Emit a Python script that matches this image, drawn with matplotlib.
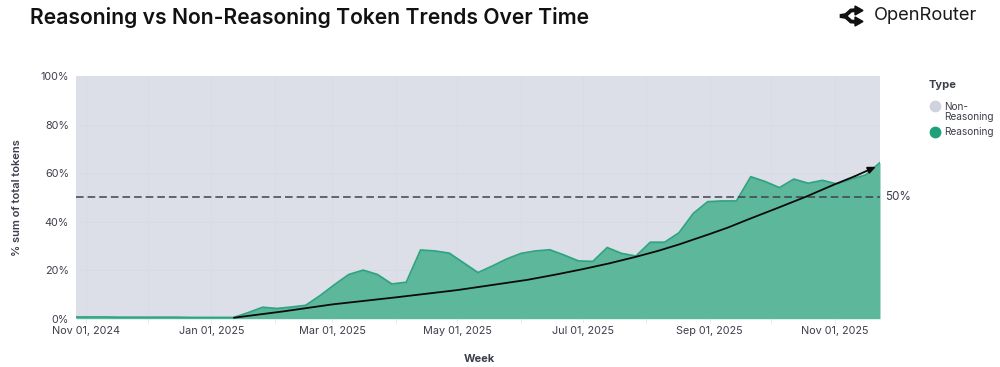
import pandas as pd
import matplotlib.pyplot as plt
import matplotlib.dates as mdates
from matplotlib.lines import Line2D

plt.rcParams["font.family"] = ["Inter", "DejaVu Sans"]

W, H = 1000, 367

# Weekly share of reasoning tokens
weeks = pd.date_range("2024-10-27", periods=57, freq="7D")
reasoning = [
    0.7, 0.7, 0.7, 0.6, 0.6, 0.6, 0.6, 0.6, 0.5, 0.5, 0.5, 0.5,
    2.5, 4.7, 4.2, 4.8, 5.5, 9.5, 14.0, 18.2, 20.0, 18.2, 14.3, 15.0,
    28.3, 27.9, 27.0, 23.0, 19.0, 21.7, 24.6, 26.9, 27.9, 28.4, 26.2, 23.8,
    23.6, 29.3, 26.9, 25.8, 31.5, 31.5, 35.4, 43.4, 48.2, 48.5, 48.5, 58.5,
    56.5, 54.0, 57.5, 55.8, 57.0, 55.5, 57.5, 59.2, 64.3,
]

# Hand-drawn trend arrow
trend_dates = pd.to_datetime([
    "2025-01-12", "2025-02-05", "2025-03-01", "2025-04-01", "2025-05-01", "2025-06-04",
    "2025-06-18", "2025-07-01", "2025-07-14", "2025-07-27", "2025-08-07", "2025-08-17",
    "2025-09-01", "2025-09-10", "2025-09-20", "2025-10-04", "2025-10-18", "2025-11-01",
    "2025-11-11", "2025-11-21",
])
trend_values = [
    0.4, 3.0, 5.9, 8.8, 11.8, 16.0, 18.2, 20.4, 22.8, 25.5, 28.0, 30.6,
    34.9, 37.6, 41.0, 45.6, 50.3, 55.4, 58.8, 62.6,
]

tick_dates = pd.date_range("2024-11-01", "2025-11-01", freq="MS")
labels_every = 2
y_ticks = [0, 20, 40, 60, 80, 100]

GREY = "#DCDFE7"
GREEN_FILL = "#5CB79B"
GREEN_LINE = "#2FA482"
TEXT = "#3C3F4C"
GRID = "#D8DBE3"


def fx(px):
    return px / W


def fy(px):
    return 1 - px / H


fig = plt.figure(figsize=(W / 100, H / 100), dpi=100)
ax = fig.add_axes([fx(76), fy(318.7), fx(880 - 76), (318.7 - 76) / H])

ax.fill_between(weeks, 0, 100, color=GREY, lw=0, zorder=1)
for d in tick_dates:
    ax.axvline(d, color=GRID, lw=0.6, zorder=1.5)
for v in y_ticks[1:-1]:
    ax.axhline(v, color=GRID, lw=0.6, zorder=1.5)
ax.fill_between(weeks, 0, reasoning, color=GREEN_FILL, lw=0, zorder=2)
ax.plot(weeks, reasoning, color=GREEN_LINE, lw=1.3, zorder=3)

ax.set_xlim(weeks[0], weeks[-1])
ax.set_ylim(0, 100)

ax.set_xticks(tick_dates)
ax.set_xticklabels([d.strftime("%b %d, %Y") if i % labels_every == 0 else "" for i, d in enumerate(tick_dates)])
ax.set_yticks(y_ticks)
ax.set_yticklabels([f"{v}%" for v in y_ticks])
ax.tick_params(axis="x", length=3, width=0.6, color="#E4E6EB", labelsize=7.8, labelcolor=TEXT, pad=2)
ax.tick_params(axis="y", length=0, labelsize=7.8, labelcolor=TEXT, pad=5)
for s in ax.spines.values():
    s.set_visible(False)

ax.axhline(50, color="#3F4250", lw=1.1, dashes=(5, 2.6), zorder=5)

ax.plot(trend_dates[:-1], trend_values[:-1], color="#0B0B0B", lw=1.3, zorder=6, solid_capstyle="round")
ax.annotate(
    "", xy=(mdates.date2num(trend_dates[-1]), trend_values[-1]),
    xytext=(mdates.date2num(trend_dates[-2]), trend_values[-2]),
    arrowprops=dict(arrowstyle="-|>,head_length=0.45,head_width=0.2", color="#0B0B0B", lw=1.3,
                    shrinkA=0, shrinkB=0),
    zorder=6,
)

fig.text(fx(30), fy(17), "Reasoning vs Non-Reasoning Token Trends Over Time", fontsize=15.2,
         fontweight="semibold", color="#111111", va="center")
fig.text(fx(874), fy(16), "OpenRouter", fontsize=13.2, color="#1A1A1A", va="center")

# OpenRouter logo
fig.add_artist(Line2D([fx(x) for x in [858, 851, 846, 840, 846, 851, 858]],
                      [fy(y) for y in [10, 10.5, 15, 16, 17, 21.5, 22]],
                      color="#111111", lw=2.8, solid_joinstyle="miter"))
for tip in [10.5, 21.5]:
    fig.add_artist(plt.Polygon([(fx(863), fy(tip)), (fx(855), fy(tip - 4.5)), (fx(855), fy(tip + 4.5))],
                               closed=True, color="#111111", transform=fig.transFigure))

fig.text(fx(885), fy(197), "50%", fontsize=8.4, color=TEXT, va="center")
fig.text(fx(17), fy(198), "% sum of total tokens", fontsize=8, fontweight="semibold", color=TEXT,
         rotation=90, ha="center", va="center")
fig.text(fx(479), fy(359), "Week", fontsize=8, fontweight="bold", color=TEXT, ha="center", va="center")

# Legend
fig.text(fx(929), fy(85), "Type", fontsize=8, fontweight="bold", color=TEXT, va="center")
fig.add_artist(Line2D([fx(934.5)], [fy(106)], marker="o", ms=8.5, color="#CFD3DE", mew=0))
fig.add_artist(Line2D([fx(934.5)], [fy(132)], marker="o", ms=8.5, color="#1FA07B", mew=0))
fig.text(fx(944), fy(111.5), "Non-\nReasoning", fontsize=7.2, color=TEXT, va="center", linespacing=1.0)
fig.text(fx(944), fy(132), "Reasoning", fontsize=7.2, color=TEXT, va="center")

fig.savefig("out.png", dpi=100)
